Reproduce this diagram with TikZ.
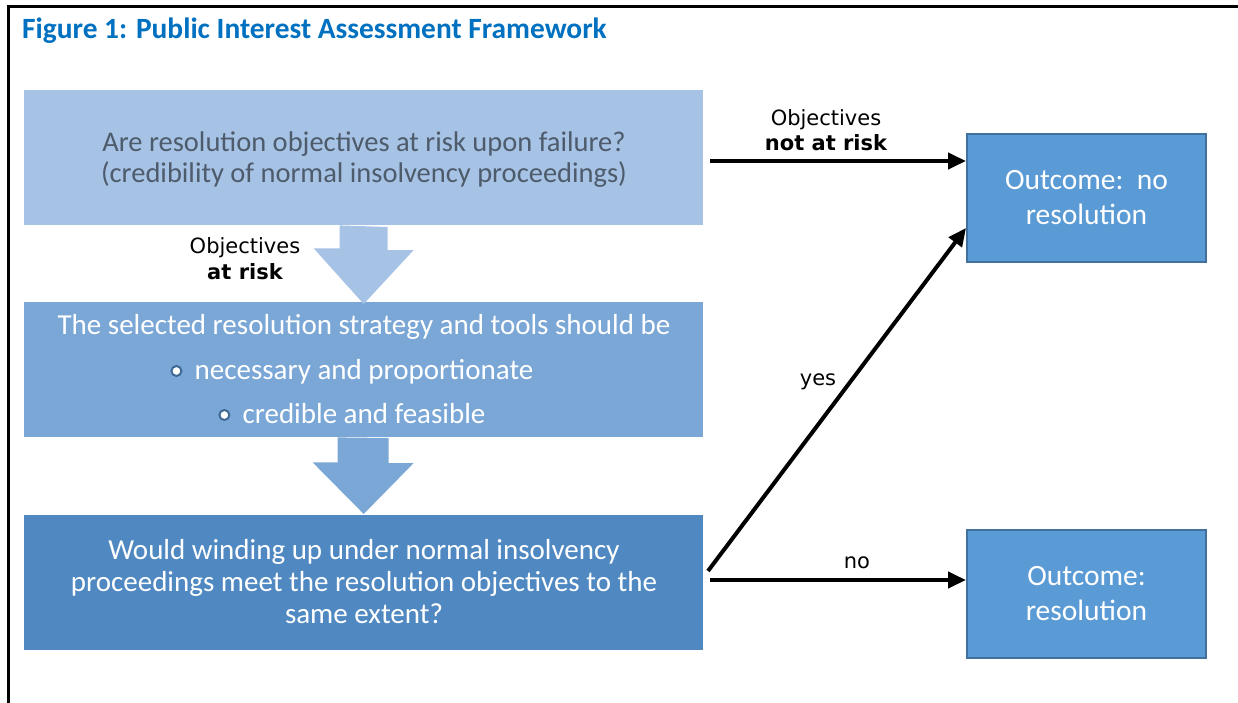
\documentclass[tikz,border=0pt]{standalone}
\usepackage{fontspec}
\setmainfont{Carlito}
\newfontfamily\verd{DejaVu Sans}
\usetikzlibrary{arrows.meta,calc}
\definecolor{titleblue}{HTML}{0070C0}
\definecolor{boxA}{HTML}{A6C3E6}
\definecolor{boxB}{HTML}{7BA7D6}
\definecolor{boxC}{HTML}{5089C2}
\definecolor{outfill}{HTML}{5B9BD5}
\definecolor{outline}{HTML}{41719C}
\definecolor{graytext}{HTML}{4E5B6B}
\definecolor{bulletline}{HTML}{3F6A98}
\tikzset{
  bigbox/.style={draw=none, minimum width=679pt, minimum height=135pt, anchor=north west, inner sep=0pt},
  outbox/.style={draw=outline, line width=2pt, fill=outfill, minimum width=239pt, minimum height=128pt, anchor=north west, inner sep=0pt, text=white, font=\fontsize{29.5}{35}\selectfont, align=center},
  bodytxt/.style={anchor=base, inner sep=0pt, font=\fontsize{29}{34}\selectfont},
  lbl/.style={anchor=base, inner sep=0pt, font=\verd\fontsize{21}{25}\selectfont},
  lblb/.style={anchor=base, inner sep=0pt, font=\verd\bfseries\fontsize{21}{25}\selectfont},
  conn/.style={line width=4pt, -{Triangle[length=18pt,width=16pt]}},
  bul/.style={circle, draw=bulletline, fill=white, line width=2pt, minimum size=10pt, inner sep=0pt}
}
\begin{document}
\begin{tikzpicture}[x=1pt,y=-1pt]
\useasboundingbox (0,0) rectangle (1238,703);
% frame
\draw[line width=3pt] (8,703) -- (8,7) -- (1238,7);
% title
\node[anchor=base west, inner sep=0pt, text=titleblue, font=\bfseries\fontsize{29.4}{34}\selectfont] (title) at (22,39) {Figure 1: Public Interest Assessment Framework};
% boxes
\node[bigbox, fill=boxA] (b1) at (24,90) {};
\node[bigbox, fill=boxB] (b2) at (24,302) {};
\node[bigbox, fill=boxC] (b3) at (24,515) {};
% block arrows
\fill[boxA] ($(b1.south)+(-24,0)$) -- ++(0,23) -- ++(-26,0) -- ($(b2.north)+(0,2)$) -- ++(50,-54) -- ++(-26,0) -- ++(0,-23) -- cycle;
\fill[boxB] ($(b2.south)+(-26,0)$) -- ++(0,25) -- ++(-25,0) -- ($(b3.north)+(0,-1)$) -- ++(50,-51) -- ++(-25,0) -- ++(0,-25) -- cycle;
% box 1 text
\node[bodytxt, text=graytext, font=\fontsize{28.5}{34}\selectfont] (t1a) at (364,152) {Are resolution objectives at risk upon failure?};
\node[bodytxt, text=graytext, font=\fontsize{28.5}{34}\selectfont] (t1b) at (364,183) {(credibility of normal insolvency proceedings)};
% box 2 text
\node[bodytxt, text=white] (t2a) at (364,334) {The selected resolution strategy and tools should be};
\node[bodytxt, text=white] (t2b) at (364,379) {necessary and proportionate};
\node[bodytxt, text=white] (t2c) at (364,423) {credible and feasible};
\node[bul] (u1) at ($(t2b.base west)+(-18,-8)$) {};
\node[bul] (u2) at ($(t2c.base west)+(-18,-8)$) {};
% box 3 text
\node[bodytxt, text=white] (t3a) at (364,559) {Would winding up under normal insolvency};
\node[bodytxt, text=white] (t3b) at (364,591) {proceedings meet the resolution objectives to the};
\node[bodytxt, text=white] (t3c) at (364,623) {same extent?};
% outcome boxes
\node[outbox] (o1) at (966,133) {Outcome:\ \ no\\resolution};
\node[outbox] (o2) at (966,529) {Outcome:\\resolution};
% connectors
\coordinate (s1) at (710,161);
\coordinate (s2) at (708,571);
\coordinate (s3) at (710,580);
\draw[conn] (s1) -- (s1 -| o1.west);
\draw[conn] (s2) -- (o1.west |- 0,228);
\draw[conn] (s3) -- (s3 -| o2.west);
% labels
\node[lbl] (l1) at (826,126) {Objectives};
\node[lblb] (l2) at (826,151) {not at risk};
\node[lbl] (l3) at (245,253) {Objectives};
\node[lblb] (l4) at (245,279) {at risk};
\node[lbl] (l5) at (818,385) {yes};
\node[lbl] (l6) at (857,568) {no};
\end{tikzpicture}
\end{document}
